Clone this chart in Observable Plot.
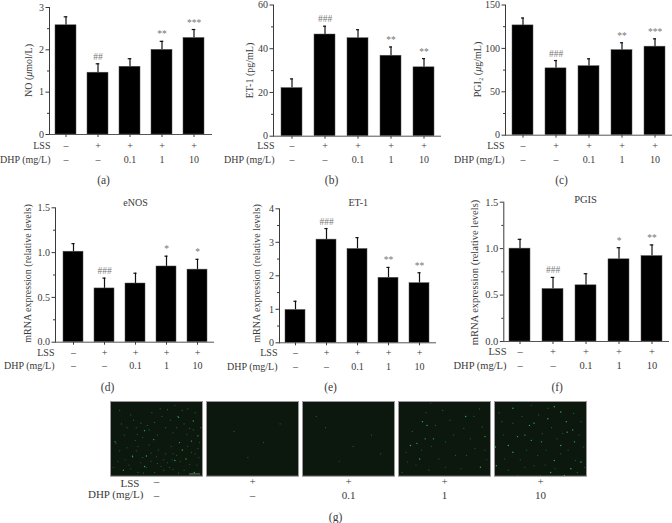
<!DOCTYPE html>
<html><head><meta charset="utf-8">
<script src="https://cdn.jsdelivr.net/npm/d3@7"></script>
<script src="https://cdn.jsdelivr.net/npm/@observablehq/plot@0.6"></script>
<style>
html,body{margin:0;padding:0;background:#fff}
#chart{position:relative;width:672px;height:523px;overflow:hidden;background:#fff}
#chart svg{position:absolute;background:transparent;overflow:visible}
</style></head><body><div id="chart"></div>
<script>
// ---------- data ----------
const lssRow = ["–","+","+","+","+"];
const dhpRow = ["–","–","0.1","1","10"];
const groups = [0,1,2,3,4];

const noValues  = [2.58,1.46,1.60,2.00,2.28];
const noTops    = [2.78,1.67,1.79,2.20,2.48];
const noMarks   = ["","##","","**","***"];

const et1Values = [22,46.5,44.8,36.8,31.5];
const et1Tops   = [26.2,50.3,48.7,40.8,35.5];
const et1Marks  = ["","###","","**","**"];

const pgi2Values = [126.5,77,79.5,98,102];
const pgi2Tops   = [135,86,88,106.5,111];
const pgi2Marks  = ["","###","","**","***"];

const enosValues = [1.01,0.60,0.655,0.845,0.81];
const enosTops   = [1.10,0.715,0.77,0.96,0.925];
const enosMarks  = ["","###","","*","*"];

const et1mValues = [0.98,3.08,2.80,1.94,1.78];
const et1mTops   = [1.24,3.41,3.14,2.25,2.09];
const et1mMarks  = ["","###","","**","**"];

const pgisValues = [1.00,0.565,0.605,0.885,0.92];
const pgisTops   = [1.10,0.69,0.73,1.01,1.04];
const pgisMarks  = ["","###","","*","**"];

// fluorescence specks (percent of each micrograph)
const brightSpecks = [
 [[88,53],[75,55],[39,73],[14,92],[95,46],[78,65],[91,95],[74,21],[90,26],[37,87],[70,79],[24,74],[47,51],[37,39],[5,54],[82,77]],
 [],
 [],
 [[31,32],[20,56],[23,77],[73,20],[29,50],[38,50],[94,47],[13,59],[26,27],[89,88]],
 [[1,61],[78,27],[58,23],[33,45],[65,79],[43,29],[20,9],[85,38],[15,59],[72,59],[51,54],[25,47],[40,52],[20,68],[76,99],[2,86],[61,95],[87,54],[79,41],[65,7],[72,14],[38,32],[83,90],[94,81]]
];
const faintSpecks = [
 [[29,44],[62,82],[51,83],[39,88],[24,72],[40,32],[73,20],[86,36],[33,29],[51,45],[62,11],[95,63],[6,56],[44,69],[27,52],[55,87],[67,78],[76,80],[96,75],[68,91],[12,30],[18,62],[30,60],[56,20],[60,35],[68,42],[80,30],[92,15],[84,10],[45,15],[22,18],[8,80],[20,85],[30,95],[48,95],[60,70],[66,60],[88,68],[94,85],[35,75],[52,65],[28,35],[15,45],[70,5],[98,35],[42,58],[80,92],[58,92],
  [10,12],[18,35],[25,25],[35,48],[42,38],[48,28],[54,10],[65,25],[78,12],[83,44],[90,38],[72,35],[10,66],[16,78],[28,66],[33,82],[44,80],[50,74],[58,78],[64,88],[72,72],[86,84],[92,70],[97,55],[3,88],[22,90],[36,96],[74,96],[84,60],[68,70]],
 [[30,40],[62,55],[80,30],[45,75]],
 [[25,35],[55,60],[75,45],[40,80],[85,70],[15,20]],
 [[71,36],[51,54],[83,63],[10,81],[44,77],[62,72],[91,34],[74,72],[51,88],[33,92],[19,85],[4,95],[35,2],[94,65],[40,32],[56,25],[15,40],[60,45],[82,20],[25,65],[68,90],[96,78],[30,15],[48,12],[78,50],[8,68],[36,60],[88,10]],
 [[8,27],[25,99],[83,90],[97,61],[58,9],[86,16],[20,29],[47,72],[33,88],[15,92],[43,86],[72,70],[52,43],[94,27],[74,43],[11,77],[56,65],[88,79],[30,20],[10,45],[48,18],[62,35],[68,50],[35,65],[55,85],[5,15],[40,5],[92,45],[80,65],[28,78],[66,90],[50,99],[90,95],[98,88]]
];

// ---------- layout ----------
const ink = "#3a3a3a";
const serif = "'Liberation Serif',serif";
const root = document.getElementById("chart");

const panels = [
 {v:noValues,t:noTops,m:noMarks,dom:[0,3],major:[0,1,2,3],minor:[0.5,1.5,2.5],fmt:d3.format("d"),
  box:[0,0,222,190],ax:49,right:211,base:134,top:7,c0:65,c4:194.7,bw:21,
  ylab:"NO (μmol/L)",ylx:28,yly:70,rows:[145.7,159.7],rowR:50,cap:"(a)",capx:103,capy:180},
 {v:et1Values,t:et1Tops,m:et1Marks,dom:[0,60],major:[0,20,40,60],minor:[10,30,50],fmt:d3.format("d"),
  box:[222,0,223,190],ax:273,right:440,base:135.7,top:4.5,c0:290.7,c4:424.7,bw:21.5,
  ylab:"ET-1 (pg/mL)",ylx:249,yly:70,rows:[145.7,159.7],rowR:274,cap:"(b)",capx:331,capy:180},
 {v:pgi2Values,t:pgi2Tops,m:pgi2Marks,dom:[0,150],major:[0,50,100,150],minor:[25,75,125],fmt:d3.format("d"),
  box:[445,0,227,190],ax:505,right:672,base:134.7,top:4.5,c0:522.3,c4:655.7,bw:21.5,
  ylab:"PGI₂ (μg/mL)",ylx:477,yly:69,rows:[145.7,159.7],rowR:504,cap:"(c)",capx:561,capy:180},
 {v:enosValues,t:enosTops,m:enosMarks,dom:[0,1.5],major:[0,0.5,1,1.5],minor:[0.25,0.75,1.25],fmt:d3.format(".1f"),
  box:[0,190,222,205],ax:55,right:213,base:341.7,top:207.3,c0:71.7,c4:198.3,bw:20.5,
  ylab:"mRNA expression (relative levels)",ylx:27,yly:273,rows:[352.3,365.7],rowR:54,cap:"(d)",capx:107,capy:387,
  title:"eNOS",tx:135,ty:202},
 {v:et1mValues,t:et1mTops,m:et1mMarks,dom:[0,4],major:[0,1,2,3,4],minor:[0.5,1.5,2.5,3.5],fmt:d3.format("d"),
  box:[222,190,223,205],ax:279,right:435,base:342.3,top:208.3,c0:295,c4:420,bw:20.5,
  ylab:"mRNA expression (relative levels)",ylx:256,yly:273,rows:[352.5,366],rowR:277,cap:"(e)",capx:330,capy:387,
  title:"ET-1",tx:357.7,ty:202.7},
 {v:pgisValues,t:pgisTops,m:pgisMarks,dom:[0,1.5],major:[0,0.5,1,1.5],minor:[0.25,0.75,1.25],fmt:d3.format(".1f"),
  box:[445,190,227,205],ax:503.3,right:668,base:341,top:201.7,c0:519,c4:651,bw:21,fs:10.5,
  ylab:"mRNA expression (relative levels)",ylx:474,yly:272,rows:[351,365],rowR:506,cap:"(f)",capx:556.7,capy:387,
  title:"PGIS",tx:585,ty:199.3}
];

function place(svg,[l,t]){svg.style.left=l+"px";svg.style.top=t+"px";root.appendChild(svg);}

panels.forEach(p=>{
  const [bl,bt,bw,bh]=p.box, fs=p.fs||10;
  const rows=groups.map(i=>({g:i,v:p.v[i],t:p.t[i],m:p.m[i],lss:lssRow[i],dhp:dhpRow[i]}));
  const step=(p.c4-p.c0)/4, pi=1-p.bw/step;
  const at=(s,x,y,o={})=>Plot.text([s],{text:d=>d,frameAnchor:"top-left",dx:x-p.ax,dy:y-p.top,
        textAnchor:"middle",lineAnchor:"middle",fontFamily:serif,fontSize:fs,fill:ink,...o});
  const svg=Plot.plot({
    width:bw,height:bh,
    marginLeft:p.ax-bl,marginRight:bl+bw-p.right,marginTop:p.top-bt,marginBottom:bt+bh-p.base,
    x:{type:"band",domain:groups,range:[p.c0-step/2-bl,p.c4+step/2-bl],paddingInner:pi,paddingOuter:pi/2,axis:null},
    y:{domain:p.dom,axis:null},
    style:{background:"transparent",fontFamily:serif},
    marks:[
      Plot.ruleX(rows,{x:"g",y1:"v",y2:"t",stroke:"#111",strokeWidth:1.2}),
      Plot.tickY(rows,{x:"g",y:"t",stroke:"#111",strokeWidth:1.2,insetLeft:p.bw/2-1.8,insetRight:p.bw/2-1.8}),
      Plot.barY(rows,{x:"g",y:"v",fill:"#000",stroke:"#555",strokeWidth:0.5}),
      Plot.frame({anchor:"left",stroke:ink,strokeWidth:1}),
      Plot.frame({anchor:"bottom",stroke:"#555",strokeWidth:1}),
      Plot.axisY({ticks:p.major,tickFormat:p.fmt,tickSize:3.5,tickPadding:2,label:null,stroke:ink,
                  fontFamily:serif,fontSize:fs,fill:ink}),
      Plot.axisY({ticks:p.minor,text:null,tickSize:2,label:null,stroke:ink}),
      Plot.axisX({ticks:groups,text:null,tickSize:3,label:null,stroke:ink}),
      Plot.text(rows,{x:"g",y:"t",text:"m",dy:-7,lineAnchor:"middle",fontFamily:serif,fontSize:9.5,fill:"#777"}),
      Plot.text(rows,{x:"g",text:"lss",frameAnchor:"bottom",dy:p.rows[0]-p.base,lineAnchor:"middle",fontFamily:serif,fontSize:fs,fill:ink}),
      Plot.text(rows,{x:"g",text:"dhp",frameAnchor:"bottom",dy:p.rows[1]-p.base,lineAnchor:"middle",fontFamily:serif,fontSize:fs,fill:ink}),
      at("LSS",p.rowR,p.rows[0],{textAnchor:"end"}),
      at("DHP (mg/L)",p.rowR,p.rows[1],{textAnchor:"end"}),
      at(p.ylab,p.ylx,p.yly,{rotate:-90}),
      at(p.cap,p.capx,p.capy,{fontSize:11.5}),
      ...(p.title?[at(p.title,p.tx,p.ty)]:[])
    ]
  });
  svg.querySelectorAll("text").forEach(t=>{
    if(t.textContent.includes("μ")) t.innerHTML=t.textContent.replace("μ",'<tspan font-style="italic">μ</tspan>');
  });
  place(svg,[bl,bt]);
});

// ---------- micrographs (g) ----------
const flat=list=>list.flatMap((pts,i)=>pts.map(([x,y])=>({panel:i,x,y})));
const gTop=395,gAx=109,gRight=587.3,gImgTop=401,gImgBase=475.7;
const gRows=groups.map(i=>({panel:i,lss:lssRow[i],dhp:dhpRow[i]}));
const gAt=(s,x,y,o={})=>Plot.text([{panel:0,s}],{fx:"panel",text:"s",frameAnchor:"top-left",dx:x-gAx,dy:y-gImgTop,
      textAnchor:"middle",lineAnchor:"middle",fontFamily:serif,fontSize:11,fill:ink,...o});
place(Plot.plot({
  width:672,height:523-gTop,
  marginLeft:gAx,marginRight:672-gRight,marginTop:gImgTop-gTop,marginBottom:523-gImgBase,
  fx:{domain:groups,paddingInner:0.0385,paddingOuter:0,axis:null},
  x:{domain:[0,100],axis:null},
  y:{domain:[100,0],axis:null},
  style:{background:"transparent",fontFamily:serif},
  marks:[
    Plot.frame({fill:"#0c170d",stroke:"#999",strokeWidth:1}),
    Plot.dot(flat(faintSpecks),{fx:"panel",x:"x",y:"y",r:0.6,fill:"#1a6a2e"}),
    Plot.dot(flat(brightSpecks),{fx:"panel",x:"x",y:"y",r:0.7,fill:"#2bb04c"}),
    Plot.ruleY(gRows,{fx:"panel",y:[97],x1:[86],x2:[98],stroke:"#8a9a8a",strokeWidth:0.7}),
    Plot.text(gRows,{fx:"panel",text:"lss",frameAnchor:"bottom",dy:481-gImgBase,lineAnchor:"middle",fontFamily:serif,fontSize:11,fill:ink}),
    Plot.text(gRows,{fx:"panel",text:"dhp",frameAnchor:"bottom",dy:495-gImgBase,lineAnchor:"middle",fontFamily:serif,fontSize:11,fill:ink}),
    gAt("LSS",138,483,{textAnchor:"end"}),
    gAt("DHP (mg/L)",142,494,{textAnchor:"end"}),
    gAt("(g)",334,517,{fontSize:11.5})
  ]
}),[0,gTop]);
</script></body></html>
